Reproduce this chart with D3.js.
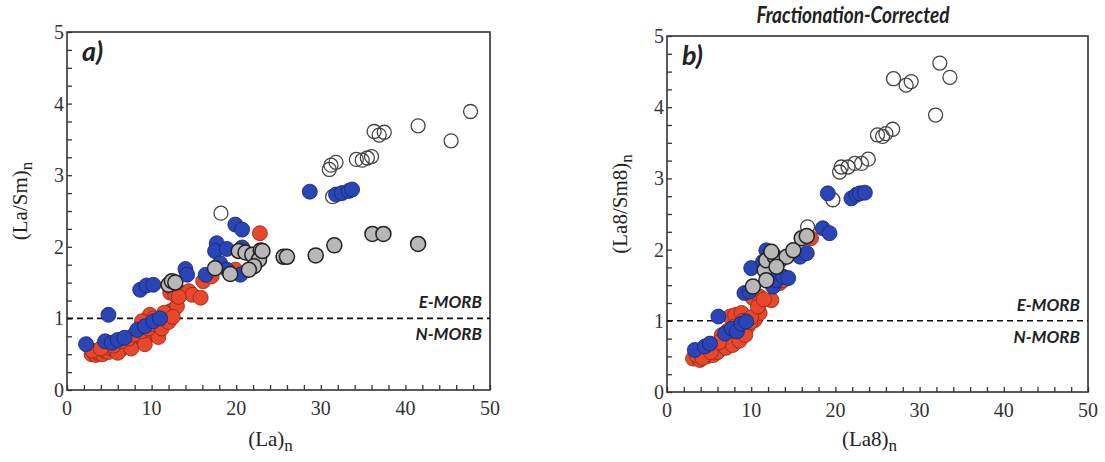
<!DOCTYPE html>
<html><head><meta charset="utf-8">
<script src="https://cdn.jsdelivr.net/npm/d3@7"></script>
<style>body{margin:0;background:#fff}svg{display:block}</style>
</head><body>
<svg id="c" width="1105" height="462"></svg>
<script>
// ---- data (x = La_n, y = (La/Sm)_n) ----
const xTicks = [0,10,20,30,40,50];
const yTicks = [0,1,2,3,4,5];
const redA = [[2.9,0.50],[3.4,0.49],[3.7,0.52],[4.2,0.50],[4.4,0.55],[4.9,0.53],[5.2,0.58],[5.7,0.56],[6.1,0.61],[6.5,0.58],[6.8,0.64],[7.1,0.66],[7.5,0.62],[7.9,0.70],[8.2,0.68],[8.6,0.75],[9.0,0.72],[9.4,0.82],[9.8,0.78],[10.6,0.80],[10.4,0.89],[11.0,0.94],[11.4,0.98],[11.8,1.03],[12.2,1.10],[12.6,1.12],[13.0,1.17],[9.8,1.05],[8.85,0.96],[10.2,1.00],[12.2,1.36],[12.8,1.33],[13.6,1.36],[14.4,1.38],[14.8,1.33],[15.8,1.29],[16.1,1.52],[17.1,1.59],[19.9,1.68],[22.8,2.19],[6.0,0.52],[7.6,0.58],[9.2,0.64],[10.8,0.74],[3.0,0.55],[4.0,0.58],[5.5,0.62],[6.4,0.68],[7.3,0.72],[8.0,0.78],[8.8,0.82],[9.6,0.86],[10.0,0.92],[11.2,0.86],[12.0,0.95],[11.5,1.08],[12.5,1.02],[13.2,1.30]];
const blueA = [[2.25,0.64],[4.9,1.05],[4.5,0.68],[5.3,0.66],[6.0,0.70],[6.8,0.73],[8.3,0.84],[9.2,0.89],[10.2,0.96],[11.0,1.00],[8.65,1.40],[9.4,1.46],[10.2,1.47],[14.0,1.69],[14.2,1.61],[16.4,1.61],[17.7,2.05],[17.5,1.94],[18.9,1.97],[19.9,2.31],[20.7,2.24],[18.1,1.77],[18.9,1.68],[20.5,1.61],[20.7,1.99],[28.7,2.77],[31.8,2.73],[32.5,2.75],[33.3,2.78],[33.7,2.80]];
const grayA = [[12.0,1.47],[12.4,1.52],[12.8,1.50],[17.5,1.70],[19.3,1.62],[20.3,1.94],[21.1,1.92],[21.9,1.89],[22.9,1.95],[22.7,1.82],[22.1,1.73],[21.5,1.68],[23.1,1.94],[25.6,1.86],[26.0,1.86],[29.4,1.88],[31.6,2.02],[36.1,2.18],[37.4,2.18],[41.5,2.04]];
const openA = [[18.2,2.47],[31.2,3.14],[31.8,3.18],[31.0,3.08],[31.4,2.70],[34.2,3.22],[34.9,3.21],[35.5,3.24],[36.0,3.26],[36.3,3.61],[36.9,3.56],[37.5,3.60],[41.5,3.69],[45.4,3.48],[47.7,3.89]];
// ---- fractionation-corrected (x = La8_n, y = (La8/Sm8)_n) ----
const redB = [[3.1,0.47],[3.9,0.45],[4.7,0.50],[5.5,0.52],[6.3,0.61],[6.7,0.68],[7.5,0.71],[8.3,0.78],[9.0,0.85],[9.6,0.92],[10.4,1.01],[11.0,1.11],[7.5,1.06],[8.1,1.08],[8.85,1.11],[10.2,1.32],[11.0,1.34],[12.4,1.29],[13.4,1.53],[13.8,1.57],[4.3,0.55],[5.0,0.60],[5.8,0.65],[6.0,0.56],[7.0,0.62],[7.8,0.66],[8.6,0.72],[9.3,0.80],[9.9,0.98],[6.5,0.80],[7.2,0.86],[17.1,2.16],[3.5,0.52],[4.2,0.48],[5.2,0.56],[6.2,0.70],[8.0,0.92],[9.0,1.0],[10.0,1.05],[10.8,1.20],[11.5,1.30]];
const blueB = [[3.3,0.59],[4.5,0.64],[5.1,0.68],[6.1,1.06],[6.9,0.82],[7.7,0.89],[8.3,0.85],[8.85,0.96],[9.4,0.99],[9.2,1.39],[9.8,1.41],[10.0,1.74],[11.8,1.99],[11.4,1.83],[12.6,1.48],[13.0,1.57],[13.8,1.62],[14.4,1.60],[15.8,1.90],[16.6,1.95],[18.5,2.30],[19.3,2.23],[19.1,2.79],[21.9,2.72],[22.5,2.77],[22.9,2.79],[23.5,2.80]];
const grayB = [[10.2,1.48],[11.6,1.71],[11.8,1.85],[12.8,1.90],[13.4,1.85],[14.2,1.90],[15.0,1.99],[16.0,2.16],[16.6,2.19],[12.4,1.97],[13.0,1.76],[11.8,1.57]];
const openB = [[16.7,2.32],[19.7,2.70],[20.5,3.09],[20.7,3.16],[21.5,3.16],[22.3,3.21],[23.1,3.21],[23.9,3.27],[25.0,3.61],[25.6,3.59],[26.0,3.63],[26.8,3.69],[26.9,4.40],[28.4,4.31],[29.0,4.36],[31.9,3.89],[32.4,4.62],[33.6,4.42]];
const morbLine = 1;

const svg = d3.select("#c");
const serif = "'Liberation Serif','DejaVu Serif',serif";
const sans = "Lato,'Open Sans','Noto Sans',sans-serif";

function panel(o){
  const g = svg.append("g");
  const x = d3.scaleLinear().domain([0,50]).range([o.l,o.r]);
  const y = d3.scaleLinear().domain([0,5]).range([o.b,o.t]);
  const xa = d3.axisBottom(x).tickValues(d3.range(0,51,2)).tickSize(-5).tickFormat("");
  g.append("g").attr("transform",`translate(0,${o.b})`).call(xa)
    .call(s=>{s.select(".domain").remove();s.selectAll("line").attr("stroke","#333").attr("stroke-width",1.3);});
  const ya = d3.axisLeft(y).tickValues(d3.range(0,5.01,0.25)).tickSize(-5).tickFormat("");
  g.append("g").attr("transform",`translate(${o.l},0)`).call(ya)
    .call(s=>{s.select(".domain").remove();s.selectAll("line").attr("stroke","#333").attr("stroke-width",1.3);});
  g.append("rect").attr("x",o.l).attr("y",o.t).attr("width",o.r-o.l).attr("height",o.b-o.t)
    .attr("fill","none").attr("stroke","#333").attr("stroke-width",1.6);
  g.selectAll(".xl").data(xTicks).join("text").attr("x",d=>x(d)).attr("y",o.b+25)
    .attr("text-anchor","middle").attr("font-family",serif).attr("font-size",20).attr("fill","#333").text(d=>d);
  g.selectAll(".yl").data(yTicks).join("text").attr("x",o.l-3).attr("y",d=>y(d)+7)
    .attr("text-anchor","end").attr("font-family",serif).attr("font-size",20).attr("fill","#333").text(d=>d);
  g.append("line").attr("x1",o.l).attr("x2",o.r).attr("y1",y(morbLine)).attr("y2",y(morbLine))
    .attr("stroke","#111").attr("stroke-width",1.6).attr("stroke-dasharray","6,4");
  g.append("text").attr("x",o.r-8).attr("y",y(morbLine)-10).attr("text-anchor","end")
    .attr("font-family",sans).attr("font-style","italic").attr("font-weight","bold").attr("font-size",17).attr("fill","#222").text("E-MORB");
  g.append("text").attr("x",o.r-8).attr("y",y(morbLine)+22).attr("text-anchor","end")
    .attr("font-family",sans).attr("font-style","italic").attr("font-weight","bold").attr("font-size",17).attr("fill","#222").text("N-MORB");
  g.append("text").attr("x",o.l+15).attr("y",o.t+29).attr("font-family",sans).attr("font-style","italic")
    .attr("font-weight","bold").attr("font-size",27).attr("fill","#222").text(o.letter);
  const pts = g.append("g");
  pts.selectAll(".o").data(o.open).join("circle").attr("cx",d=>x(d[0])).attr("cy",d=>y(d[1])).attr("r",7)
    .attr("fill","none").attr("stroke","#444").attr("stroke-width",1.3);
  pts.selectAll(".r").data(o.red).join("circle").attr("cx",d=>x(d[0])).attr("cy",d=>y(d[1])).attr("r",7.5)
    .attr("fill","#e8472c").attr("stroke","#8c2414").attr("stroke-width",0.8);
  pts.selectAll(".b").data(o.blue).join("circle").attr("cx",d=>x(d[0])).attr("cy",d=>y(d[1])).attr("r",7.5)
    .attr("fill","#2a45b8").attr("stroke","#16246a").attr("stroke-width",0.8);
  pts.selectAll(".g").data(o.gray).join("circle").attr("cx",d=>x(d[0])).attr("cy",d=>y(d[1])).attr("r",7.5)
    .attr("fill","#b8b8b8").attr("stroke","#222").attr("stroke-width",1.5);
  const xl = g.append("text").attr("x",(o.l+o.r)/2+o.xlOff).attr("y",446).attr("text-anchor","middle")
    .attr("font-family",serif).attr("font-size",21).attr("fill","#222");
  xl.append("tspan").text(o.xlab);
  xl.append("tspan").attr("dy",5).attr("font-size",17).text("n");
  const yl = g.append("text").attr("transform",`translate(${o.l-40},${(o.t+o.b)/2-10}) rotate(-90)`)
    .attr("text-anchor","middle").attr("font-family",serif).attr("font-size",21).attr("fill","#222");
  yl.append("tspan").text(o.ylab);
  yl.append("tspan").attr("dy",5).attr("font-size",17).text("n");
}

panel({l:67,r:490,t:32,b:390,letter:"a)",red:redA,blue:blueA,gray:grayA,open:openA,
  xlab:"(La)",ylab:"(La/Sm)",xlOff:-8});
panel({l:667,r:1088,t:36,b:392,letter:"b)",red:redB,blue:blueB,gray:grayB,open:openB,
  xlab:"(La8)",ylab:"(La8/Sm8)",xlOff:-8});

svg.append("text").attr("x",853).attr("y",23).attr("text-anchor","middle")
  .attr("font-family",sans).attr("font-style","italic").attr("font-weight","bold").attr("font-size",23)
  .attr("fill","#222").attr("textLength",193).attr("lengthAdjust","spacingAndGlyphs").text("Fractionation-Corrected");
</script>
</body></html>
